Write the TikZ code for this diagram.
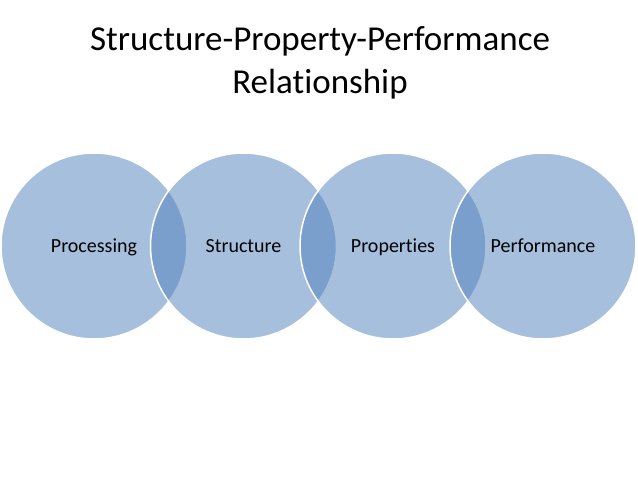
\documentclass[tikz,border=0pt]{standalone}
\usepackage{fontspec}
\setmainfont{Carlito}[Ligatures=NoCommon,RawFeature={-liga;-clig}]
\definecolor{accentblue}{HTML}{4F81BD}
\begin{document}
\begin{tikzpicture}[x=1pt,y=-1pt,
  venn/.style={circle,minimum size=186pt,inner sep=0pt,fill=accentblue,fill opacity=0.5,draw=white,line width=1.5pt,text opacity=1},
  lbl/.style={font=\fontsize{20}{24}\selectfont,text=black,anchor=base},
  ttl/.style={font=\fontsize{35}{40}\selectfont,text=black,anchor=base}]
\useasboundingbox[fill=white] (0,0) rectangle (638,479);
\node[venn] (c1) at (94,246) {};
\node[venn] (c2) at (243.5,246) {};
\node[venn] (c3) at (393,246) {};
\node[venn] (c4) at (543,246) {};
\node[lbl] (t1) at (94,252) {Processing};
\node[lbl] (t2) at (243.5,252) {Structure};
\node[lbl] (t3) at (393,252) {Properties};
\node[lbl] (t4) at (543,252) {Performance};
\node[ttl] (title1) at (320,50) {Structure-Property-Performance};
\node[ttl] (title2) at (320,93) {Relationship};
\end{tikzpicture}
\end{document}
